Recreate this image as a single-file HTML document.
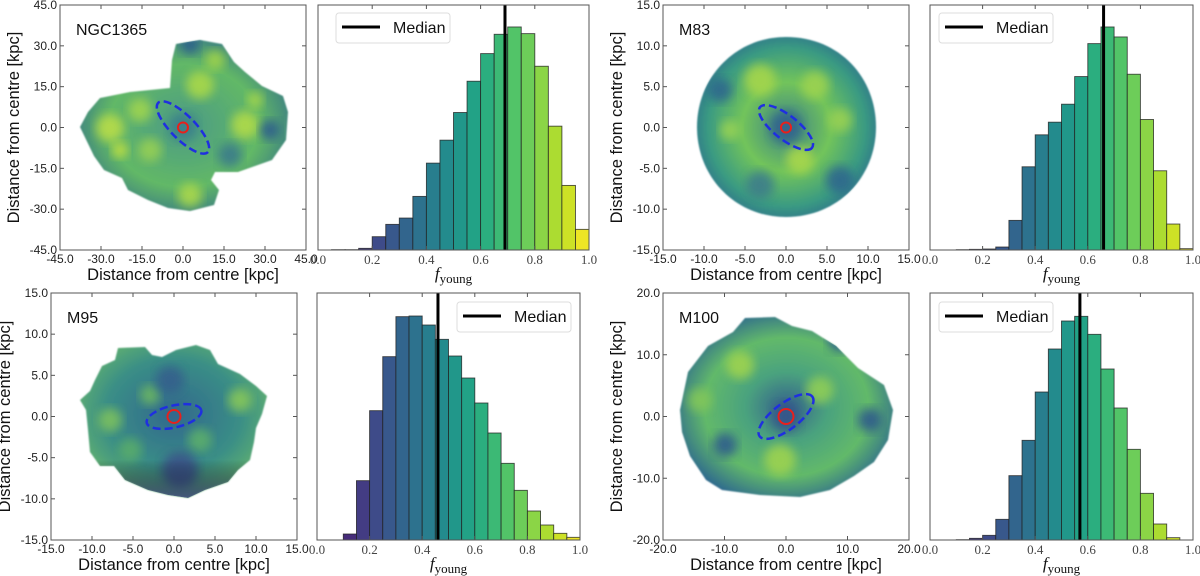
<!DOCTYPE html>
<html><head><meta charset="utf-8"><style>
body{margin:0;background:#fff;width:1200px;height:576px;overflow:hidden}
svg{display:block}
.tk{font-family:"Liberation Sans",sans-serif;font-size:12px;fill:#222}
.tks{font-family:"Liberation Serif",serif;font-size:13px;fill:#444}
.al{font-family:"Liberation Sans",sans-serif;font-size:16.5px;fill:#111}
.nm{font-family:"Liberation Sans",sans-serif;font-size:16px;fill:#111}
</style></head><body>
<svg id="fig" width="1200" height="576">
<defs>
<filter id="bl" x="-20%" y="-20%" width="140%" height="140%"><feGaussianBlur stdDeviation="5"/></filter>
<filter id="bl2"><feGaussianBlur stdDeviation="0.8"/></filter>
<radialGradient id="g1" cx="50%" cy="50%" r="60%"><stop offset="0" stop-color="#4a9a86"/><stop offset="0.6" stop-color="#62b866"/><stop offset="1" stop-color="#2e6a8c"/></radialGradient>
<radialGradient id="g2" cx="50%" cy="50%" r="55%"><stop offset="0" stop-color="#3a7f8a"/><stop offset="0.45" stop-color="#72c45a"/><stop offset="0.8" stop-color="#3a9a82"/><stop offset="1" stop-color="#2d6f8c"/></radialGradient>
<radialGradient id="g3" cx="50%" cy="45%" r="60%"><stop offset="0" stop-color="#31688d"/><stop offset="0.6" stop-color="#3a8e86"/><stop offset="1" stop-color="#6ab96a"/></radialGradient>
<linearGradient id="g3b" x1="0" y1="0" x2="0" y2="1"><stop offset="0.75" stop-color="#000" stop-opacity="0"/><stop offset="1" stop-color="#3c3f80" stop-opacity="0.8"/></linearGradient>
<radialGradient id="g4" cx="50%" cy="50%" r="55%"><stop offset="0" stop-color="#35618c"/><stop offset="0.35" stop-color="#4aa27e"/><stop offset="0.7" stop-color="#62b96a"/><stop offset="1" stop-color="#2f6b8d"/></radialGradient>
</defs>
<g id="maps"></g>
<g id="hists"></g>
</svg>
<script>
// ---- histogram data (bins of 0.05 from 0 to 1), heights in relative units ----
const binEdges = [0,0.05,0.1,0.15,0.2,0.25,0.3,0.35,0.4,0.45,0.5,0.55,0.6,0.65,0.7,0.75,0.8,0.85,0.9,0.95];
const countsNGC1365 = [0,1,1,5,40,77,96,161,261,330,413,507,590,648,670,650,552,372,194,62];
const countsM83 = [0,0,1,2,3,9,89,250,346,384,438,521,620,670,640,528,392,238,78,4];
const countsM95 = [0,0,18,178,388,550,670,672,645,602,552,486,411,321,230,149,87,45,20,8];
const countsM100 = [0,0,1,5,14,62,193,299,444,573,657,671,617,513,396,272,140,48,7,0];
const medians = [0.69,0.66,0.46,0.57];
const yMaxes = [736,736,741,741];
const histTicks = ["0.0","0.2","0.4","0.6","0.8","1.0"];
const galaxyNames = ["NGC1365","M83","M95","M100"];
const mapTickLabels = [
 ["-45.0","-30.0","-15.0","0.0","15.0","30.0","45.0"],
 ["-15.0","-10.0","-5.0","0.0","5.0","10.0","15.0"],
 ["-15.0","-10.0","-5.0","0.0","5.0","10.0","15.0"],
 ["-20.0","-10.0","0.0","10.0","20.0"]];

const NS="http://www.w3.org/2000/svg";
function el(t,a,p){const e=document.createElementNS(NS,t);for(const k in a)e.setAttribute(k,a[k]);p.appendChild(e);return e;}
const VIR=["#440154","#482475","#414487","#355f8d","#2a788e","#21918c","#22a884","#44bf70","#7ad151","#bddf26","#fde725"];
function hx(c){return [1,3,5].map(i=>parseInt(c.substr(i,2),16));}
function viridis(t){t=Math.max(0,Math.min(1,t));const f=t*10,i=Math.min(9,Math.floor(f)),r=f-i;const a=hx(VIR[i]),b=hx(VIR[i+1]);return "rgb("+a.map((v,k)=>Math.round(v+(b[k]-v)*r)).join(",")+")";}

const histBoxes=[{l:318,r:589,t:5,b:250,leg:[336,13],lab:279},{l:930,r:1193,t:5,b:250,leg:[939,13],lab:279},{l:317,r:580,t:293,b:540,leg:[457,302],lab:569},{l:930,r:1193,t:293,b:540,leg:[939,302],lab:569}];
const allCounts=[countsNGC1365,countsM83,countsM95,countsM100];
const H=document.getElementById('hists');
histBoxes.forEach((bx,i)=>{
  const g=el('g',{},H);
  
  
  const xs=v=>bx.l+(bx.r-bx.l)*v, ys=v=>bx.b-(bx.b-bx.t)*v/yMaxes[i];
  allCounts[i].forEach((c,j)=>{
    if(c<=0)return;
    const x0=xs(binEdges[j]),x1=xs(binEdges[j]+0.05);
    const r=el('rect',{x:x0,y:ys(c),width:x1-x0,height:bx.b-ys(c),fill:viridis(binEdges[j]+0.025),stroke:'#222','stroke-width':0.9,'stroke-opacity':0.8},g);
    
    
  });
  const m=el('line',{x1:xs(medians[i]),x2:xs(medians[i]),y1:bx.t,y2:bx.b,stroke:'#000','stroke-width':3},g);
  
  
  el('rect',{x:bx.l,y:bx.t,width:bx.r-bx.l,height:bx.b-bx.t,fill:'none',stroke:'#555','stroke-width':1},g);
  histTicks.forEach((tl,k)=>{
    const v=parseFloat(tl),x=xs(v);
    el('line',{x1:x,x2:x,y1:bx.b,y2:bx.b-4,stroke:'#555'},g);
    el('line',{x1:x,x2:x,y1:bx.t,y2:bx.t+4,stroke:'#555'},g);
    const t=el('text',{x:x,y:bx.b+14,'text-anchor':'middle',class:'tks'},g);t.textContent=tl;
    
    
  });
  const lab=el('text',{x:(bx.l+bx.r)/2,y:bx.lab,'text-anchor':'middle','font-family':'Liberation Serif,serif','font-size':'17px',fill:'#111'},g);
  lab.innerHTML='<tspan font-style="italic">f</tspan><tspan font-size="13" dy="4">young</tspan>';
  
  
  const lg=el('g',{},g);
  
  
  const [lx,ly]=bx.leg;
  el('rect',{x:lx,y:ly,width:114,height:30,rx:3,fill:'#fff','fill-opacity':0.9,stroke:'#ddd'},lg);
  el('line',{x1:lx+6,x2:lx+44,y1:ly+14,y2:ly+14,stroke:'#000','stroke-width':3},lg);
  const lt=el('text',{x:lx+57,y:ly+20,'font-family':'Liberation Sans,sans-serif','font-size':'16px',fill:'#111'},lg);lt.textContent='Median';
});

// ---- galaxy maps (image-like, drawn as shapes) ----
const mapBoxes=[{l:60,r:306,t:5,b:250},{l:663,r:909,t:5,b:250},{l:51,r:297,t:293,b:540},{l:663,r:909,t:293,b:540}];
const shapes=[
 "M80,127 L88,112 L100,98 L130,92 L170,88 L172,60 L176,44 L200,40 L222,44 L234,62 L245,72 L262,86 L283,96 L288,112 L286,140 L272,160 L238,172 L215,172 L211,180 L219,190 L214,205 L190,211 L168,208 L148,200 L128,190 L122,178 L104,170 L94,156 Z",
 "M786,37 C840,37 876,78 876,127 C876,177 838,217 786,217 C735,217 697,177 697,127 C697,78 735,37 786,37 Z",
 "M118,348 L145,347 L152,355 L162,357 L176,350 L196,345 L210,350 L218,364 L240,374 L256,386 L267,396 L262,414 L256,428 L254,442 L250,460 L238,470 L228,482 L205,490 L188,498 L168,495 L148,490 L125,480 L114,466 L100,466 L90,452 L88,430 L86,410 L80,400 L90,391 L95,380 L102,366 L115,360 Z",
 "M680,410 L688,372 L708,346 L733,332 L745,318 L775,317 L792,326 L812,331 L836,346 L858,368 L884,385 L893,410 L888,440 L874,462 L854,476 L830,490 L800,497 L760,495 L722,490 L706,480 L690,456 L682,432 Z"];
const fills=["url(#g1)","url(#g2)","url(#g3)","url(#g4)"];
const blobs=[
 [[110,128,14,'#b8dc48'],[140,110,12,'#9ed44f'],[200,85,14,'#a9d84a'],[215,60,10,'#9fd34c'],[245,125,14,'#b0da48'],[150,150,12,'#95cf55'],[190,195,12,'#aad84b'],[270,130,10,'#2f5f8c'],[230,155,12,'#3a7c8a'],[183,127,14,'#3a7f8b'],[190,45,9,'#2c5d8c'],[120,150,8,'#c4e040'],[255,100,8,'#a5d64c']],
 [[760,80,16,'#a5d64c'],[815,85,14,'#9dd34f'],[840,120,12,'#98d053'],[730,130,10,'#96d155'],[800,160,14,'#a8d74c'],[760,185,14,'#3c7e8a'],[840,180,14,'#2f678d'],[720,90,12,'#2f678d'],[786,127,16,'#33648d']],
 [[110,420,12,'#7cc05e'],[240,400,12,'#86c65a'],[150,395,10,'#6cb664'],[200,440,12,'#5cae6c'],[170,380,14,'#34618c'],[180,470,18,'#3b5289'],[130,450,12,'#59ab6c']],
 [[740,365,14,'#9ed34f'],[820,390,14,'#8fcd56'],[780,460,16,'#9dd34f'],[700,400,12,'#82c65a'],[725,445,12,'#2d5d8c'],[870,420,12,'#2d5c8b'],[840,340,12,'#2f628c'],[786,417,14,'#36548a']]];
const M=document.getElementById('maps');
mapBoxes.forEach((bx,i)=>{
  const g=el('g',{},M);
  
  
  el('clipPath',{id:'cp'+i},g).appendChild(document.createElementNS(NS,'path')).setAttribute('d',shapes[i]);
  el('path',{d:shapes[i],fill:fills[i],filter:'url(#bl2)'},g);
  const bg=el('g',{'clip-path':'url(#cp'+i+')'},g);
  blobs[i].forEach(b=>el('circle',{cx:b[0],cy:b[1],r:b[2],fill:b[3],filter:'url(#bl)','opacity':0.9},bg));
  if(i===2) el('path',{d:shapes[i],fill:'url(#g3b)'},bg);
  const cx=(bx.l+bx.r)/2, cy=(bx.t+bx.b)/2;
  const ell=[[35,12,45],[33,12,38],[28,11,-13],[33,13,-37]][i];
  const rc=[5,5,6.5,7.5][i];
  const e=el('ellipse',{cx:cx,cy:cy,rx:ell[0],ry:ell[1],transform:`rotate(${ell[2]} ${cx} ${cy})`,fill:'none',stroke:'#1f2fe0','stroke-width':2.5,'stroke-dasharray':'8 4'},g);
  
  
  const c=el('circle',{cx:cx,cy:cy,r:rc,fill:'none',stroke:'#e8201c','stroke-width':2},g);
  
  
  el('rect',{x:bx.l,y:bx.t,width:bx.r-bx.l,height:bx.b-bx.t,fill:'none',stroke:'#555'},g);
  const tl=mapTickLabels[i],n=tl.length;
  tl.forEach((s,k)=>{
    const x=bx.l+(bx.r-bx.l)*k/(n-1), y=bx.b-(bx.b-bx.t)*k/(n-1);
    el('line',{x1:x,x2:x,y1:bx.b,y2:bx.b-4,stroke:'#555'},g);
    el('line',{x1:x,x2:x,y1:bx.t,y2:bx.t+4,stroke:'#555'},g);
    el('line',{x1:bx.l,x2:bx.l+4,y1:y,y2:y,stroke:'#555'},g);
    el('line',{x1:bx.r,x2:bx.r-4,y1:y,y2:y,stroke:'#555'},g);
    const tx=el('text',{x:x,y:bx.b+13,'text-anchor':'middle',class:'tk'},g);tx.textContent=s;
    
    
    const ty=el('text',{x:bx.l-3,y:y+4,'text-anchor':'end',class:'tk'},g);ty.textContent=s;
    
    
  });
  const xl=el('text',{x:cx,y:bx.b+30,'text-anchor':'middle',class:'al'},g);xl.textContent='Distance from centre [kpc]';
  
  
  const yx=bx.l-41;
  const yl=el('text',{x:yx,y:cy,'text-anchor':'middle',class:'al',transform:`rotate(-90 ${yx} ${cy})`},g);yl.textContent='Distance from centre [kpc]';
  
  
  const nm=el('text',{x:bx.l+16,y:bx.t+30,class:'nm'},g);nm.textContent=galaxyNames[i];
  
  
});
</script>
</body></html>
